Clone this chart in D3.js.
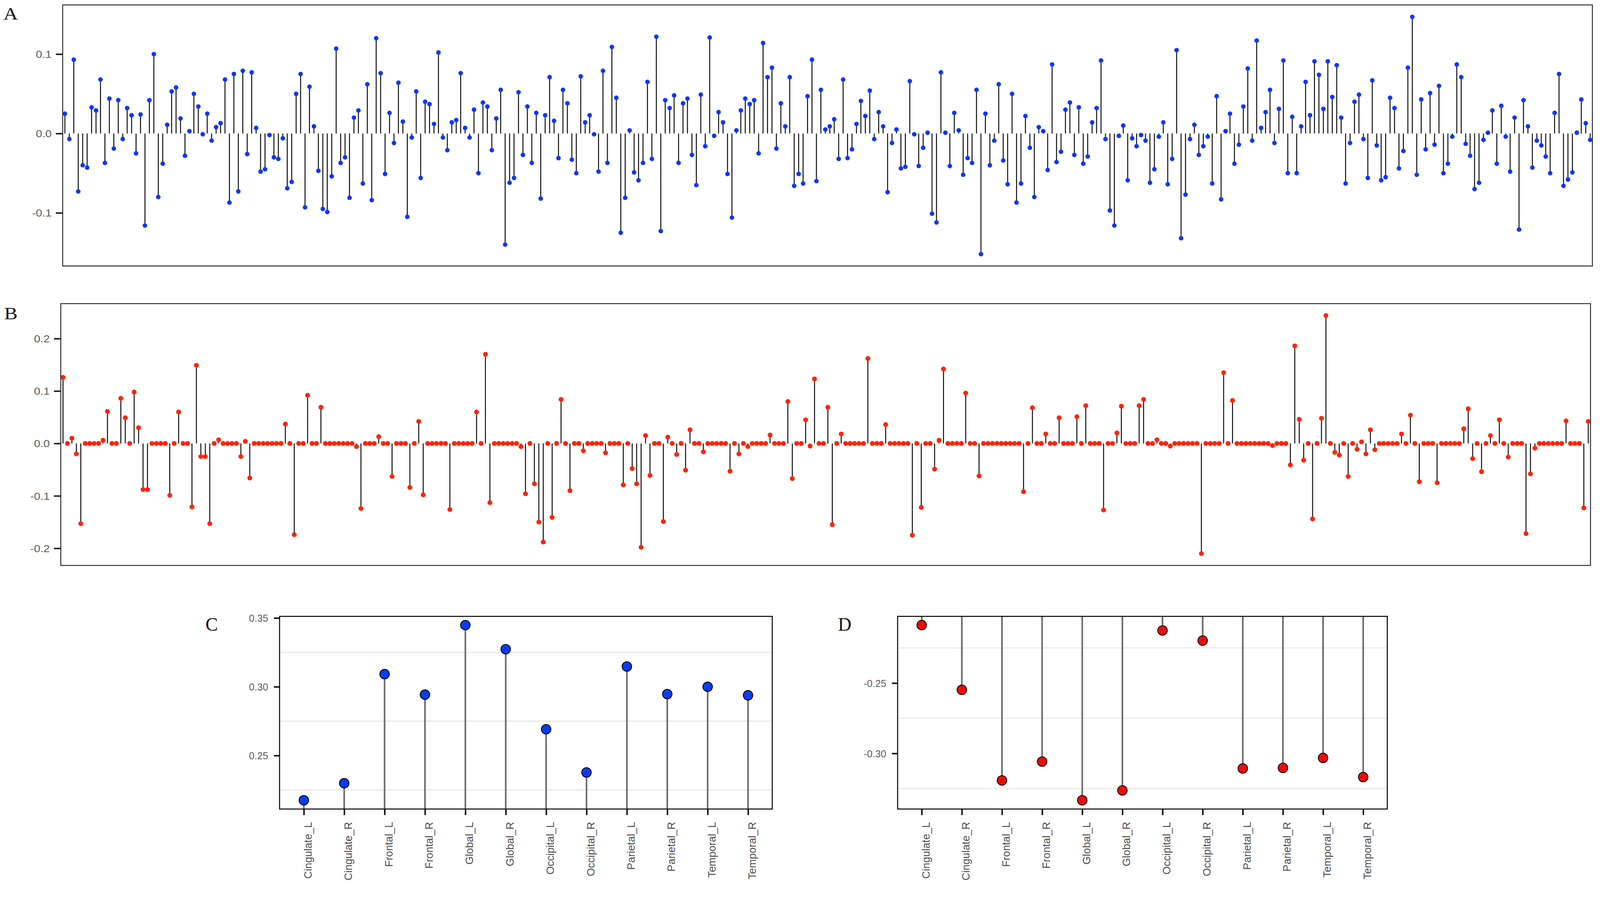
<!DOCTYPE html>
<html>
<head>
<meta charset="utf-8">
<script src="https://cdn.jsdelivr.net/npm/d3@7"></script>
<style>
  html, body { margin: 0; padding: 0; background: #fff; overflow: hidden; }
  svg { display: block; }
</style>
</head>
<body>
<svg id="chart"></svg>
<script>
// ---------------- DATA ----------------
const panelAValues = [
  0.025, -0.007, 0.093, -0.073, -0.040, -0.043, 0.033, 0.029, 0.068, -0.037,
  0.044, -0.019, 0.042, -0.007, 0.032, 0.023, -0.025, 0.024, -0.116, 0.042,
  0.100, -0.080, -0.038, 0.011, 0.053, 0.058, 0.019, -0.028, 0.003, 0.050,
  0.034, -0.001, 0.025, -0.009, 0.008, 0.013, 0.068, -0.087, 0.075, -0.073,
  0.079, -0.026, 0.077, 0.007, -0.048, -0.045, -0.002, -0.030, -0.032, -0.006,
  -0.069, -0.061, 0.050, 0.075, -0.093, 0.059, 0.009, -0.047, -0.095, -0.099,
  -0.054, 0.107, -0.037, -0.030, -0.081, 0.020, 0.029, -0.063, 0.062, -0.084,
  0.120, 0.076, -0.051, 0.026, -0.012, 0.064, 0.015, -0.105, -0.005, 0.053,
  -0.056, 0.040, 0.037, 0.012, 0.102, -0.005, -0.021, 0.014, 0.017, 0.076,
  0.007, -0.005, 0.030, -0.050, 0.039, 0.034, -0.021, 0.019, 0.055, -0.140,
  -0.062, -0.056, 0.052, -0.027, 0.034, -0.037, 0.026, -0.082, 0.023, 0.071,
  0.016, -0.031, 0.055, 0.038, -0.033, -0.050, 0.072, 0.014, 0.023, -0.001,
  -0.048, 0.079, -0.037, 0.109, 0.045, -0.125, -0.081, 0.004, -0.049, -0.059,
  -0.037, 0.065, -0.032, 0.122, -0.123, 0.042, 0.032, 0.048, -0.037, 0.038,
  0.044, -0.027, -0.065, 0.049, -0.016, 0.121, -0.003, 0.027, 0.014, -0.051,
  -0.106, 0.004, 0.029, 0.044, 0.037, 0.042, -0.025, 0.114, 0.071, 0.083,
  -0.019, 0.038, 0.009, 0.071, -0.066, -0.051, -0.063, 0.047, 0.093, -0.060,
  0.055, 0.005, 0.009, 0.018, -0.032, 0.068, -0.031, -0.020, 0.012, 0.041,
  0.022, 0.054, -0.007, 0.027, 0.009, -0.074, -0.012, 0.005, -0.044, -0.042,
  0.066, -0.001, -0.041, -0.018, 0.001, -0.101, -0.112, 0.077, 0.001, -0.041,
  0.026, 0.004, -0.052, -0.031, -0.037, 0.055, -0.152, 0.025, -0.040, -0.009,
  0.062, -0.034, -0.064, 0.050, -0.087, -0.063, 0.022, -0.018, -0.080, 0.008,
  0.003, -0.046, 0.087, -0.036, -0.023, 0.030, 0.039, -0.027, 0.033, -0.038,
  -0.029, 0.014, 0.032, 0.092, -0.007, -0.097, -0.116, -0.003, 0.010, -0.059,
  -0.006, -0.016, -0.002, -0.009, -0.062, -0.045, -0.004, 0.014, -0.064, -0.032,
  0.105, -0.132, -0.077, -0.007, 0.011, -0.027, -0.016, -0.004, -0.063, 0.047,
  -0.083, 0.003, 0.025, -0.038, -0.014, 0.034, 0.082, -0.009, 0.117, 0.007,
  0.027, 0.055, -0.012, 0.031, 0.092, -0.050, 0.021, -0.050, 0.009, 0.065,
  0.023, 0.091, 0.074, 0.031, 0.091, 0.046, 0.086, 0.020, -0.063, -0.012,
  0.040, 0.049, -0.007, -0.056, 0.067, -0.015, -0.059, -0.055, 0.045, 0.032,
  -0.044, -0.022, 0.083, 0.147, -0.052, 0.043, -0.020, 0.051, -0.014, 0.060,
  -0.050, -0.038, -0.004, 0.087, 0.071, -0.013, -0.028, -0.070, -0.062, -0.008,
  0.001, 0.029, -0.038, 0.035, -0.004, -0.048, 0.020, -0.121, 0.042, 0.009,
  -0.043, -0.009, -0.015, -0.029, -0.050, 0.026, 0.075, -0.066, -0.058, -0.049,
  0.001, 0.043, 0.013, -0.008
];

const panelBValues = [
  0.126, 0, 0.010, -0.020, -0.153, 0, 0, 0, 0, 0.006,
  0.061, 0, 0, 0.086, 0.049, 0, 0.098, 0.030, -0.088, -0.088,
  0, 0, 0, 0, -0.099, 0, 0.060, 0, 0, -0.121,
  0.149, -0.025, -0.025, -0.153, 0, 0.007, 0, 0, 0, 0,
  -0.025, 0.004, -0.066, 0, 0, 0, 0, 0, 0, 0,
  0.037, 0, -0.174, 0, 0, 0.092, 0, 0, 0.069, 0,
  0, 0, 0, 0, 0, 0, -0.006, -0.124, 0, 0,
  0, 0.013, 0, 0, -0.063, 0, 0, 0, -0.084, 0,
  0.042, -0.098, 0, 0, 0, 0, 0, -0.126, 0, 0,
  0, 0, 0, 0.060, 0, 0.170, -0.113, 0, 0, 0,
  0, 0, 0, -0.006, -0.096, 0, -0.077, -0.150, -0.188, 0,
  -0.141, 0, 0.084, 0, -0.090, 0, 0, -0.014, 0, 0,
  0, 0, -0.018, 0, 0, 0, -0.079, 0, -0.048, -0.077,
  -0.198, 0.015, -0.061, 0, 0, -0.149, 0.012, 0, -0.021, 0,
  -0.051, 0.026, 0, 0, -0.016, 0, 0, 0, 0, 0,
  -0.053, 0, -0.020, 0, -0.006, 0, 0, 0, 0, 0.016,
  0, 0, 0, 0.080, -0.067, 0, 0, 0.045, -0.005, 0.123,
  0, 0, 0.069, -0.155, 0, 0.018, 0, 0, 0, 0,
  0, 0.162, 0, 0, 0, 0.036, 0, 0, 0, 0,
  0, -0.175, 0, -0.122, 0, 0, -0.049, 0.006, 0.142, 0,
  0, 0, 0, 0.096, 0, 0, -0.062, 0, 0, 0,
  0, 0, 0, 0, 0, 0, -0.092, 0, 0.068, 0,
  0, 0.018, 0, 0, 0.049, 0, 0, 0, 0.051, 0,
  0.072, 0, 0, 0, -0.127, 0, 0, 0.020, 0.071, 0,
  0, 0, 0.072, 0.084, 0, 0, 0.007, 0, 0, -0.005,
  0, 0, 0, 0, 0, 0, -0.210, 0, 0, 0,
  0, 0.135, 0, 0.082, 0, 0, 0, 0, 0, 0,
  0, 0, -0.004, 0, 0, 0, -0.041, 0.186, 0.046, -0.032,
  0, -0.144, 0, 0.048, 0.244, 0, -0.017, -0.022, 0, -0.063,
  0, -0.011, 0.003, -0.020, 0.026, -0.012, 0, 0, 0, 0,
  0, 0.018, 0, 0.054, 0, -0.073, 0, 0, 0, -0.075,
  0, 0, 0, 0, 0, 0.028, 0.066, -0.029, 0, -0.054,
  0, 0.015, 0, 0.045, 0, -0.026, 0, 0, 0, -0.172,
  -0.058, -0.009, 0, 0, 0, 0, 0, 0, 0.043, 0,
  0, 0, -0.123, 0.042
];

const regions = ["Cingulate_L", "Cingulate_R", "Frontal_L", "Frontal_R", "Global_L", "Global_R",
                 "Occipital_L", "Occipital_R", "Parietal_L", "Parietal_R", "Temporal_L", "Temporal_R"];
const panelCValues = [0.2175, 0.2299, 0.3092, 0.2943, 0.3448, 0.3273, 0.2691, 0.2377, 0.3147, 0.2947, 0.3000, 0.2938];
const panelDValues = [-0.2088, -0.2548, -0.3192, -0.3058, -0.3333, -0.3263, -0.2126, -0.2198, -0.3107, -0.3103, -0.3032, -0.3168];

const ticksA = [-0.1, 0.0, 0.1];
const ticksB = [-0.2, -0.1, 0.0, 0.1, 0.2];
const ticksC = [0.25, 0.30, 0.35];
const minorC = [0.225, 0.275, 0.325];
const ticksD = [-0.30, -0.25];
const minorD = [-0.325, -0.275, -0.225];
const panelLetters = ["A", "B", "C", "D"];

// ---------------- LAYOUT ----------------
const W = 4212, H = 2339;
const svg = d3.select("#chart")
  .attr("viewBox", `0 0 ${W} ${H}`)
  .attr("preserveAspectRatio", "xMinYMin meet")
  .style("width", "100vw")
  .style("height", `calc(100vw * ${H} / ${W})`);
svg.append("rect").attr("width", W).attr("height", H).attr("fill", "#fff");

const SANS = "'Liberation Sans', Arial, Helvetica, sans-serif";
const SERIF = "'Liberation Serif', 'Times New Roman', serif";

function expand(ext, f = 0.05) {
  const r = ext[1] - ext[0];
  return [ext[0] - r * f, ext[1] + r * f];
}

function stemPanel(opts) {
  const { values, box, color, r, ticks, letter, letterX, letterY } = opts;
  const g = svg.append("g");
  const n = values.length;
  const idx = d3.range(1, n + 1);
  const x = d3.scaleLinear().domain([0.5, n + 0.5]).range([box.x0, box.x1]);
  const y = d3.scaleLinear().domain(expand(d3.extent(values))).range([box.y1, box.y0]);

  g.selectAll("line.stem").data(idx).join("line")
    .attr("class", "stem")
    .attr("x1", i => x(i)).attr("x2", i => x(i))
    .attr("y1", y(0)).attr("y2", i => y(values[i - 1]))
    .attr("stroke", "#111").attr("stroke-width", 2.6);

  g.selectAll("circle.pt").data(idx).join("circle")
    .attr("class", "pt")
    .attr("cx", i => x(i)).attr("cy", i => y(values[i - 1]))
    .attr("r", r).attr("fill", color);

  g.append("rect")
    .attr("x", box.x0).attr("y", box.y0)
    .attr("width", box.x1 - box.x0).attr("height", box.y1 - box.y0)
    .attr("fill", "none").attr("stroke", "#333").attr("stroke-width", 2.6);

  const ax = g.append("g").attr("transform", `translate(${box.x0},0)`)
    .call(d3.axisLeft(y).tickValues(ticks).tickFormat(d => d.toFixed(1)).tickSize(18).tickPadding(10));
  ax.select(".domain").remove();
  ax.selectAll(".tick line").attr("stroke", "#222").attr("stroke-width", 4);
  ax.selectAll(".tick text")
    .attr("font-family", SANS).attr("font-size", 26).attr("fill", "#5a5a5a")
    .attr("transform", "scale(1.15,1)")
    .attr("x", -29 / 1.15).attr("dy", "0.36em");

  svg.append("text").text(letter)
    .attr("font-family", SERIF).attr("font-size", 46).attr("fill", "#111")
    .attr("transform", `translate(${letterX},${letterY}) scale(1.15,1)`);
}

stemPanel({ values: panelAValues, box: { x0: 165, x1: 4192, y0: 13, y1: 700 },
  color: "#0a36ff", r: 6.0, ticks: ticksA, letter: panelLetters[0], letterX: 9, letterY: 51 });
stemPanel({ values: panelBValues, box: { x0: 160, x1: 4187, y0: 799, y1: 1488 },
  color: "#ff2406", r: 6.4, ticks: ticksB, letter: panelLetters[1], letterX: 11, letterY: 840 });

function lollipopPanel(opts) {
  const { values, box, fill, ticks, minor, letter, letterX, letterY } = opts;
  const g = svg.append("g");
  const x = d3.scalePoint().domain(regions).range([box.x0, box.x1]).padding(0.6);
  const y = d3.scaleLinear().domain(expand(d3.extent(values))).range([box.y1, box.y0]).clamp(true);

  g.selectAll("line.grid").data(minor).join("line")
    .attr("class", "grid")
    .attr("x1", box.x0).attr("x2", box.x1)
    .attr("y1", d => y(d)).attr("y2", d => y(d))
    .attr("stroke", "#e8e8e8").attr("stroke-width", 3);

  g.selectAll("line.stem").data(regions).join("line")
    .attr("class", "stem")
    .attr("x1", d => x(d)).attr("x2", d => x(d))
    .attr("y1", y(0)).attr("y2", (d, i) => y(values[i]))
    .attr("stroke", "#6a6a6a").attr("stroke-width", 4.2);

  g.selectAll("circle.pt").data(regions).join("circle")
    .attr("class", "pt")
    .attr("cx", d => x(d)).attr("cy", (d, i) => y(values[i]))
    .attr("r", 12.5).attr("fill", fill).attr("stroke", "#000").attr("stroke-width", 2.2);

  g.append("rect")
    .attr("x", box.x0).attr("y", box.y0)
    .attr("width", box.x1 - box.x0).attr("height", box.y1 - box.y0)
    .attr("fill", "none").attr("stroke", "#111").attr("stroke-width", 2.8);

  const ay = g.append("g").attr("transform", `translate(${box.x0},0)`)
    .call(d3.axisLeft(y).tickValues(ticks).tickFormat(d => d.toFixed(2)).tickSize(15).tickPadding(15));
  ay.select(".domain").remove();
  ay.selectAll(".tick line").attr("stroke", "#111").attr("stroke-width", 4);
  ay.selectAll(".tick text")
    .attr("font-family", SANS).attr("font-size", 26).attr("fill", "#5a5a5a").attr("dy", "0.36em");

  const axb = g.append("g").attr("transform", `translate(0,${box.y1})`)
    .call(d3.axisBottom(x).tickSize(16).tickPadding(0));
  axb.select(".domain").remove();
  axb.selectAll(".tick line").attr("stroke", "#111").attr("stroke-width", 4);
  axb.selectAll(".tick text")
    .attr("font-family", SANS).attr("font-size", 28).attr("fill", "#4d4d4d")
    .attr("transform", "rotate(-90)")
    .attr("text-anchor", "end")
    .attr("x", -34).attr("y", 0).attr("dy", "0.72em");

  svg.append("text").text(letter)
    .attr("font-family", SERIF).attr("font-size", 49).attr("fill", "#111")
    .attr("x", letterX).attr("y", letterY);
}

lollipopPanel({ values: panelCValues, box: { x0: 736, x1: 2033, y0: 1622, y1: 2129 },
  fill: "#0a3cf5", ticks: ticksC, minor: minorC, letter: panelLetters[2], letterX: 541, letterY: 1660 });
lollipopPanel({ values: panelDValues, box: { x0: 2363, x1: 3652, y0: 1622, y1: 2129 },
  fill: "#ee0c0c", ticks: ticksD, minor: minorD, letter: panelLetters[3], letterX: 2206, letterY: 1660 });
</script>
</body>
</html>
